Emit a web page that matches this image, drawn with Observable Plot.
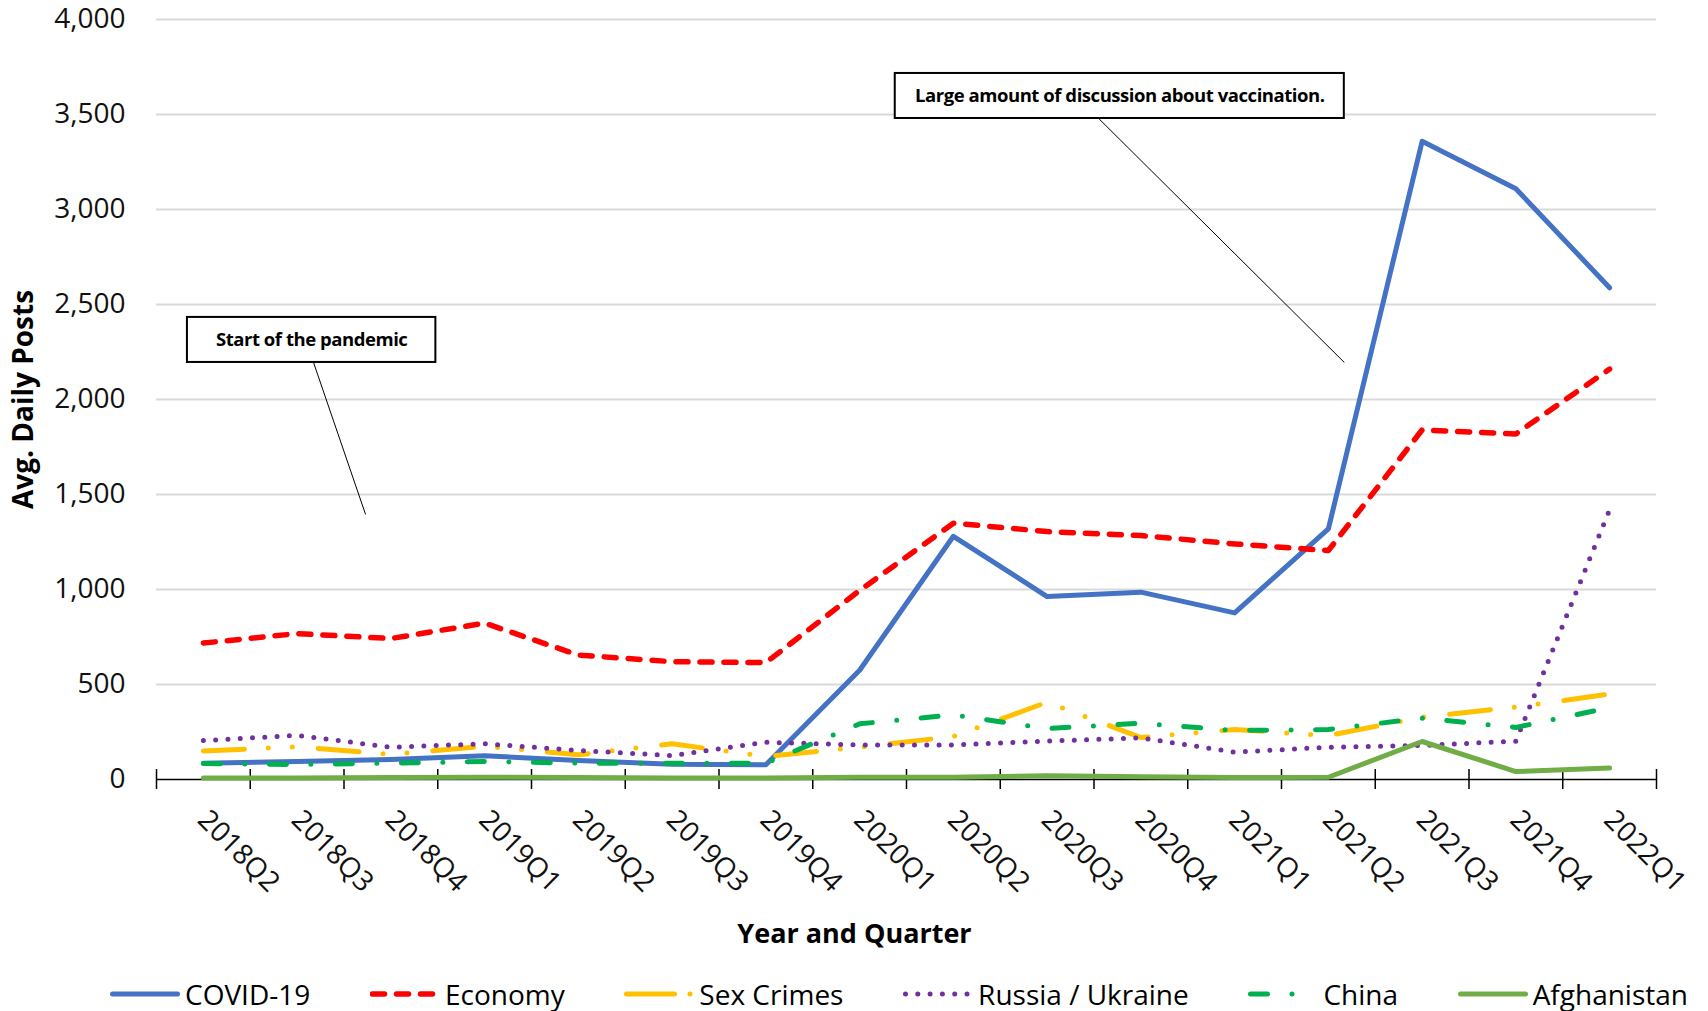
<!DOCTYPE html>
<html><head><meta charset="utf-8">
<script src="https://cdn.jsdelivr.net/npm/d3@7"></script>
<script src="https://cdn.jsdelivr.net/npm/@observablehq/plot@0.6"></script>
<style>
html,body{margin:0;padding:0;background:#fff;width:1708px;height:1011px;overflow:hidden;font-family:"Open Sans",sans-serif;}
#chart svg{display:block;}
#legend{display:flex;justify-content:space-between;align-items:center;box-sizing:border-box;width:1708px;height:51px;padding:17px 20px 0 110px;}
.item{display:flex;align-items:center;font-size:28px;line-height:28px;color:#000;white-space:nowrap;}
.item svg{margin-right:5px;display:block;}
</style></head><body>
<div id="chart"></div><div id="legend"></div>
<script>
// ---- data ----
const quarters = ["2018Q2","2018Q3","2018Q4","2019Q1","2019Q2","2019Q3","2019Q4","2020Q1","2020Q2","2020Q3","2020Q4","2021Q1","2021Q2","2021Q3","2021Q4","2022Q1"];
const covid = [85, 95, 105, 125, 100, 80, 78, 575, 1280, 963, 986, 877, 1319, 3359, 3109, 2588];
const economy = [718, 768, 742, 823, 655, 620, 615, 995, 1349, 1305, 1284, 1240, 1205, 1840, 1819, 2160];
const sexCrimes = [150, 172, 132, 175, 130, 188, 121, 170, 226, 407, 221, 263, 231, 328, 381, 450];
const russiaUkraine = [205, 232, 170, 188, 153, 126, 196, 182, 182, 202, 219, 144, 170, 179, 202, 1420];
const china = [84, 79, 86, 95, 86, 86, 86, 293, 340, 268, 296, 258, 263, 323, 274, 378];
const afghanistan = [8, 8, 10, 12, 10, 8, 8, 12, 12, 20, 15, 10, 12, 200, 42, 60];
const yTicks = [0, 500, 1000, 1500, 2000, 2500, 3000, 3500, 4000];

const seriesNames = ["COVID-19","Economy","Sex Crimes","Russia / Ukraine","China","Afghanistan"];
const seriesValues = [covid, economy, sexCrimes, russiaUkraine, china, afghanistan];

// ---- styles ----
const seriesColors = ["#4472C4","#FF0000","#FFC000","#7030A0","#00B050","#70AD47"];
const seriesDash = [null, "12,12", "41,24,0,24,0,26", "0,12.3", "17,24.5,0,24.5", null];
const legendDash = [null, "12,12", "48,15.5,0,100", "0,12.3", "17,24.5,0,24.5", null];
const seriesWidth = [5, 5.5, 5, 5, 5, 5];

// ---- annotations (callout boxes, in data units: x = quarter index, y = posts) ----
const annotations = [
  {label: "Start of the pandemic", bx1: -0.17, bx2: 2.48, by1: 2195, by2: 2432, lx1: 1.175, ly1: 2195, lx2: 1.73, ly2: 1395},
  {label: "Large amount of discussion about vaccination.", bx1: 7.38, bx2: 12.17, by1: 3479, by2: 3716, lx1: 9.55, ly1: 3479, lx2: 12.17, ly2: 2195}
];

const boundaries = d3.range(-0.5, quarters.length, 1);

const marks = [
  Plot.gridY(yTicks.filter(d => d > 0), {stroke: "#d9d9d9", strokeOpacity: 1, strokeWidth: 2}),
  Plot.axisY(yTicks, {tickSize: 0, tickPadding: 31, tickFormat: d3.format(","), fontSize: 28, fill: "#111", label: null}),
  Plot.ruleY([0], {stroke: "#000", strokeWidth: 1.5}),
  Plot.axisX(boundaries, {tickSize: 20, dy: -10, tickFormat: () => "", stroke: "#000", strokeWidth: 1.5, label: null}),
  Plot.text(quarters, {x: (d, i) => i, frameAnchor: "bottom", text: d => d, rotate: 45, textAnchor: "start", lineAnchor: "top", dx: 7, dy: 28, fontSize: 28, fill: "#111"}),
  Plot.text(["Avg. Daily Posts"], {frameAnchor: "left", rotate: -90, dx: -132, fontSize: 28, fontWeight: "bold", textAnchor: "middle", lineAnchor: "middle", fill: "#000"}),
  Plot.text(["Year and Quarter"], {frameAnchor: "bottom", dx: -52, dy: 155, fontSize: 27, fontWeight: "bold", lineAnchor: "middle", fill: "#000"})
];

seriesValues.forEach((vals, s) => {
  marks.push(Plot.lineY(vals, {
    x: (d, i) => i, y: d => d,
    stroke: seriesColors[s], strokeWidth: seriesWidth[s],
    strokeDasharray: seriesDash[s] || undefined,
    strokeLinecap: "round", strokeLinejoin: "round"
  }));
});

marks.push(
  Plot.link(annotations, {x1: "lx1", y1: "ly1", x2: "lx2", y2: "ly2", stroke: "#000", strokeWidth: 1}),
  Plot.rect(annotations, {x1: "bx1", x2: "bx2", y1: "by1", y2: "by2", fill: "#fff", stroke: "#000", strokeWidth: 2}),
  Plot.text(annotations, {x: d => (d.bx1 + d.bx2) / 2, y: d => (d.by1 + d.by2) / 2, text: "label", fontSize: 18.5, fontWeight: "bold", fontFamily: "'Open Sans', sans-serif", fill: "#000"})
);

const chart = Plot.plot({
  width: 1708,
  height: 960,
  marginLeft: 156,
  marginRight: 52,
  marginTop: 19,
  marginBottom: 181,
  style: {fontFamily: "'Open Sans', sans-serif", background: "#fff", overflow: "visible"},
  x: {type: "linear", domain: [-0.5, quarters.length - 0.5], axis: null},
  y: {domain: [0, 4000], axis: null},
  marks
});
// tighten callout text (Calibri-like narrow setting)
const calloutLabels = new Set(annotations.map(a => a.label));
d3.select(chart).selectAll("text").filter(function() { return calloutLabels.has(this.textContent); })
  .style("letter-spacing", "-0.45px");
document.getElementById("chart").appendChild(chart);

// ---- legend ----
const legend = d3.select("#legend");
seriesNames.forEach((name, s) => {
  const item = legend.append("div").attr("class", "item");
  const sw = item.append("svg").attr("width", 70).attr("height", 12);
  sw.append("line").attr("x1", 2.5).attr("x2", 67.5).attr("y1", 6).attr("y2", 6)
    .attr("stroke", seriesColors[s]).attr("stroke-width", seriesWidth[s])
    .attr("stroke-linecap", "round")
    .attr("stroke-dasharray", legendDash[s]);
  item.append("span").text(name);
});
</script>
</body></html>
